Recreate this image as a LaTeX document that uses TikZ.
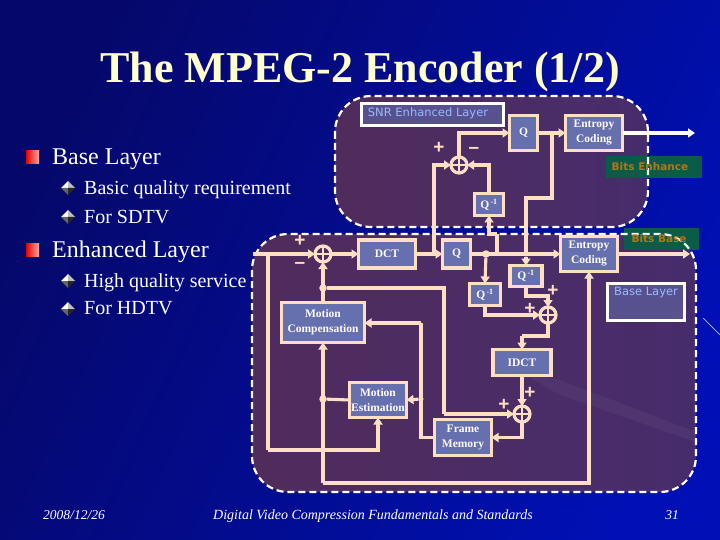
\documentclass[tikz,border=0pt]{standalone}
\usepackage{fontspec}
\setmainfont{Liberation Serif}
\newfontfamily\handfont{DejaVu Sans}
\newfontfamily\signfont{Liberation Sans}
\usetikzlibrary{arrows.meta,calc}
\definecolor{peach}{HTML}{FFDFC4}
\definecolor{boxfill}{HTML}{6670AE}
\definecolor{panelA}{HTML}{502C5C}
\definecolor{panelB}{HTML}{472C6C}
\definecolor{titlecol}{HTML}{FFFFD0}
\definecolor{greenbox}{HTML}{0A5C48}
\definecolor{bitstext}{HTML}{B87414}
\definecolor{labelblue}{HTML}{98BAFF}
\definecolor{bgA}{HTML}{05086A}
\definecolor{bgM}{HTML}{000A8C}
\definecolor{bgB}{HTML}{0010B4}
\tikzset{
  bx/.style={draw=peach,fill=boxfill,line width=3.3pt,inner sep=0pt,outer sep=0pt,align=center,
    text=white!88!peach,font=\fontsize{11.5}{15}\selectfont\bfseries},
  addr/.style={circle,draw=peach,line width=3.2pt,minimum size=16pt,inner sep=0pt,outer sep=0pt,
    path picture={\draw[peach,line width=2.8pt] (path picture bounding box.north)--(path picture bounding box.south)
      (path picture bounding box.west)--(path picture bounding box.east);}},
  dot/.style={circle,fill=peach,minimum size=7.5pt,inner sep=0pt,outer sep=0pt},
  ln/.style={draw=peach,line width=3.1pt},
  arr/.style={ln,-{Triangle[length=7pt,width=9pt]}},
  sgn/.style={text=peach,font=\signfont\fontsize{19}{19}\selectfont\bfseries,inner sep=0pt},
  panelfill/.style={left color=panelA,right color=panelB,rounded corners=36pt},
  paneledge/.style={draw=white,line width=2.2pt,dash pattern=on 7pt off 4pt,rounded corners=36pt},
  bits/.style={fill=greenbox,inner sep=0pt,outer sep=0pt},
  bitst/.style={text=bitstext,font=\handfont\fontsize{10.5}{11}\selectfont\bfseries,inner sep=0pt},
  layerlab/.style={draw=white,fill=boxfill!55!panelB,line width=3.4pt,inner sep=0pt},
  layert/.style={text=labelblue,font=\handfont\fontsize{11.5}{12}\selectfont,inner sep=0pt},
  h1/.style={anchor=base west,text=white,inner sep=0pt,font=\fontsize{24}{24}\selectfont},
  h2/.style={anchor=base west,text=white,inner sep=0pt,font=\fontsize{20}{20}\selectfont},
  foot/.style={anchor=base,text=white,inner sep=0pt,font=\fontsize{13.5}{14}\selectfont\itshape}
}
\newcommand{\redbullet}[2]{\shade[left color=red!90!black,right color=red!35!white] (#1,#2) rectangle ++(13,13);}
\newcommand{\dmd}[2]{%
  \fill[white] (#1,#2-7)--(#1-7,#2)--(#1,#2)--cycle;
  \fill[black!25] (#1,#2-7)--(#1+7,#2)--(#1,#2)--cycle;
  \fill[black!60] (#1-7,#2)--(#1,#2+7)--(#1,#2)--cycle;
  \fill[black!85] (#1+7,#2)--(#1,#2+7)--(#1,#2)--cycle;}
\newcommand{\Qinv}{Q\textsuperscript{\,-1}}
\begin{document}
\begin{tikzpicture}[x=1pt,y=-1pt]
\useasboundingbox (0,0) rectangle (720,540);
% background
\shade[top color=bgA,middle color=bgM,bottom color=bgB,shading angle=65] (0,0) rectangle (720,540);
\draw[white!75!blue,line width=.7pt] (703,318)--(720,335);
% panels
\shade[panelfill] (252,234) rectangle (696,492);
\shade[panelfill] (335,96) rectangle (648,227);
\fill[white,opacity=.04] (520,372)--(560,380)--(696,432)--(696,442)--(560,395)--cycle;
\node[bits,minimum width=96pt,minimum height=22pt] (bgE) at (654,167) {};
\node[bits,minimum width=75pt,minimum height=22pt] (bgB) at (661.5,239) {};
\draw[paneledge] (252,234) rectangle (696,492);
\draw[paneledge] (335,96) rectangle (648,227);
% text
\node[anchor=base,text=titlecol,inner sep=0pt,font=\fontsize{44}{44}\selectfont\bfseries] (title) at (360,83) {The MPEG-2 Encoder (1/2)};
\redbullet{26}{151}
\redbullet{26}{243}
\dmd{68}{188}\dmd{68}{217}\dmd{68}{281}\dmd{68}{309}
\node[h1] (t1) at (52,165) {Base Layer};
\node[h2] (t2) at (84,195) {Basic quality requirement};
\node[h2] (t3) at (84,223) {For SDTV};
\node[h1] (t4) at (52,257) {Enhanced Layer};
\node[h2] (t5) at (84,287) {High quality service};
\node[h2] (t6) at (84,314) {For HDTV};
\node[foot] (f1) at (74,519) {2008/12/26};
\node[foot,font=\fontsize{14}{16}\selectfont\itshape] (f2) at (373,519) {Digital Video Compression Fundamentals and Standards};
\node[foot] (f3) at (672,519) {31};
% labels
\node[layerlab,minimum width=142pt,minimum height=22pt] (snr) at (432.5,114.5) {};
\node[layert] (snrt) at (428,113) {SNR Enhanced Layer};
\node[layerlab,minimum width=77pt,minimum height=37pt] (bl) at (646,302) {};
\node[layert] (blt) at (646,293) {Base Layer};
\node[bitst] (bE) at (650,167) {Bits Enhance};
\node[bitst] (bB) at (659,239) {Bits Base};
% blocks
\node[bx,minimum width=28pt,minimum height=35pt] (q2) at (523.5,133) {Q};
\node[bx,minimum width=57pt,minimum height=35pt] (ec2) at (594,133) {Entropy\\Coding};
\node[bx,minimum width=29pt,minimum height=22pt] (qa) at (489,204.5) {\Qinv};
\node[bx,minimum width=57pt,minimum height=28pt] (dct) at (387,254) {DCT};
\node[bx,minimum width=28pt,minimum height=28pt] (q1) at (456.5,254) {Q};
\node[bx,minimum width=57pt,minimum height=35pt] (ec1) at (589,254) {Entropy\\Coding};
\node[bx,minimum width=31pt,minimum height=22pt] (ql) at (485,294.5) {\Qinv};
\node[bx,minimum width=32pt,minimum height=21pt] (qr) at (526,276) {\Qinv};
\node[bx,minimum width=83pt,minimum height=40pt] (mc) at (323,322.5) {Motion\\Compensation};
\node[bx,minimum width=58pt,minimum height=26pt] (idct) at (522,362.5) {IDCT};
\node[bx,minimum width=57pt,minimum height=35pt] (me) at (378,400) {Motion\\Estimation};
\node[bx,minimum width=57pt,minimum height=36pt] (fm) at (463,437.5) {Frame\\Memory};
% adders
\node[addr] (aT) at (459,165) {};
\node[addr] (aB) at (323,254) {};
\node[addr] (aR) at (548,315) {};
\node[addr] (aI) at (522,414) {};
% junctions
\coordinate (in) at (253,254);
\coordinate (jL) at (268,254);
\coordinate (jQ) at (434,254);
\coordinate (jU) at (497,254);
\coordinate (cU) at (497,234);
\coordinate (jE) at (552,133);
\coordinate (cE) at (526,198);
\coordinate (outE) at (695,133);
\coordinate (outB) at (690,254);
\coordinate (cM) at (421,323);
\coordinate (cB) at (323,483);
\coordinate (cB2) at (589,483);
\coordinate (cL) at (268,450);
\coordinate (cN) at (444,288);
\coordinate (cN2) at (444,414);
\coordinate (cR) at (548,296);
\coordinate (cI) at (522,336);
\node[dot] (dA) at (486,254) {};
\node[dot,minimum size=5pt] (dB) at (526,254) {};
\node[dot] (dC) at (323,288) {};
\node[dot] (dD) at (323,399) {};
\node[dot,minimum size=5pt] (dE) at (421,399) {};
% connectors
\draw[arr] (in) -- (aB.west);
\draw[arr] (aB.east) -- (dct.west);
\draw[arr,line width=4pt] (dct.east) -- (q1.west);
\draw[arr] (q1.east) -- (ec1.west);
\draw[arr] (ec1.east) -- (outB);
\draw[arr] (aT.north) |- (q2.west);
\draw[arr] (q2.east) -- (ec2.west);
\draw[arr,draw=white] (ec2.east) -- (outE);
\draw[arr] (jQ) |- (aT.west);
\draw[arr] (qa.north) |- (aT.east);
\draw[ln] (jU) -- (cU);
\draw[arr] (cU) -| (qa.south);
\draw[ln] (jE) |- (cE) -- (dB);
\draw[arr] (dB) -- (qr.north);
\draw[arr] (dA) -- (ql.north);
\draw[arr] (qr.south) |- (cR) -- (aR.north);
\draw[arr] (ql.south) |- (aR.west);
\draw[ln] (aR.south) |- (cI);
\draw[arr] (cI) -- (idct.north);
\draw[arr] (idct.south) -- (aI.north);
\draw[arr] (aI.south) |- (fm.east);
\draw[ln] (fm.west) -| (cM);
\draw[arr] (cM) -- (mc.east |- cM);
\draw[arr] (dE) -- (me.east);
\draw[ln] (me.west) -- (dD);
\draw[arr] (cB) -- (mc.south);
\draw[arr] (mc.north) -- (aB.south);
\draw[arr] (cB) -- (cB2) -- (ec1.south);
\draw[ln] (dC) -- (cN |- dC) -- (cN2);
\draw[arr] (cN2) -- (aI.west);
\draw[ln] (jL) -- (cL);
\draw[arr] (cL) -| (me.south);
% signs
\node[sgn] (s1) at (439,148) {+};
\node[sgn] (s2) at (474,150) {–};
\node[sgn] (s3) at (300,241) {+};
\node[sgn] (s4) at (300,265) {–};
\node[sgn] (s5) at (553,291) {+};
\node[sgn] (s6) at (530,309) {+};
\node[sgn] (s7) at (530,393) {+};
\node[sgn] (s8) at (504,405) {+};
\end{tikzpicture}
\end{document}
